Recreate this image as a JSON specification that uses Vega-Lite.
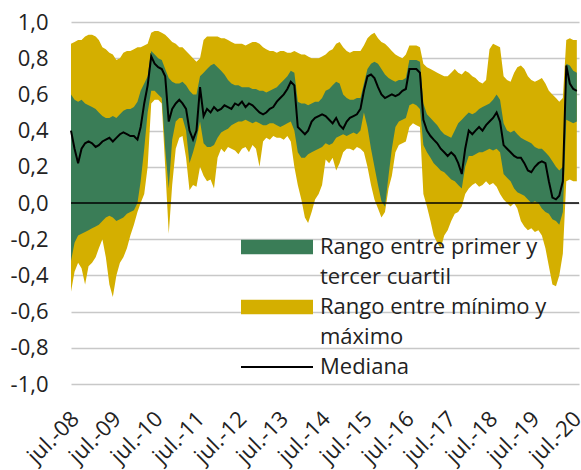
{
"$schema": "https://vega.github.io/schema/vega-lite/v6.json",
"width": 508, "height": 362,
"autosize": "none",
"padding": {"left": 71, "top": 22, "right": 2, "bottom": 86},
"background": "white",
"config": {"view": {"stroke": null}, "font": "Open Sans",
"axisY": {"title": null, "values": [-1, -0.8, -0.6, -0.4, -0.2, 0, 0.2, 0.4, 0.6, 0.8, 1], "tickCount": 11,
"labelExpr": "(datum.value < -0.001 ? '-' : '') + replace(format(abs(datum.value), '.1f'), '.', ',')",
"labelFont": "Open Sans", "labelFontSize": 22, "labelColor": "#222", "labelPadding": 23,
"labelOverlap": false, "labelBound": false, "labelSeparation": 0,
"domain": false, "ticks": false, "tickSize": 0, "grid": true, "gridColor": "#c8c8c8", "gridWidth": 1.5, "labelFlush": false}},
"datasets": {"corr": [
{"d":"2008-07-01","mn":-0.49,"q1":-0.32,"md":0.40,"q3":0.60,"mx":0.88},
{"d":"2008-08-01","mn":-0.38,"q1":-0.22,"md":0.30,"q3":0.57,"mx":0.89},
{"d":"2008-09-01","mn":-0.33,"q1":-0.18,"md":0.22,"q3":0.56,"mx":0.90},
{"d":"2008-10-01","mn":-0.36,"q1":-0.17,"md":0.30,"q3":0.57,"mx":0.90},
{"d":"2008-11-01","mn":-0.45,"q1":-0.16,"md":0.33,"q3":0.55,"mx":0.92},
{"d":"2008-12-01","mn":-0.35,"q1":-0.15,"md":0.34,"q3":0.54,"mx":0.93},
{"d":"2009-01-01","mn":-0.33,"q1":-0.14,"md":0.33,"q3":0.53,"mx":0.93},
{"d":"2009-02-01","mn":-0.30,"q1":-0.13,"md":0.31,"q3":0.52,"mx":0.92},
{"d":"2009-03-01","mn":-0.25,"q1":-0.12,"md":0.32,"q3":0.50,"mx":0.90},
{"d":"2009-04-01","mn":-0.20,"q1":-0.10,"md":0.34,"q3":0.48,"mx":0.86},
{"d":"2009-05-01","mn":-0.30,"q1":-0.08,"md":0.35,"q3":0.47,"mx":0.85},
{"d":"2009-06-01","mn":-0.45,"q1":-0.07,"md":0.36,"q3":0.47,"mx":0.83},
{"d":"2009-07-01","mn":-0.52,"q1":-0.08,"md":0.34,"q3":0.48,"mx":0.82},
{"d":"2009-08-01","mn":-0.40,"q1":-0.10,"md":0.36,"q3":0.47,"mx":0.79},
{"d":"2009-09-01","mn":-0.33,"q1":-0.09,"md":0.38,"q3":0.49,"mx":0.80},
{"d":"2009-10-01","mn":-0.30,"q1":-0.08,"md":0.39,"q3":0.51,"mx":0.83},
{"d":"2009-11-01","mn":-0.25,"q1":-0.06,"md":0.38,"q3":0.52,"mx":0.84},
{"d":"2009-12-01","mn":-0.18,"q1":-0.05,"md":0.37,"q3":0.52,"mx":0.84},
{"d":"2010-01-01","mn":-0.12,"q1":-0.04,"md":0.37,"q3":0.53,"mx":0.85},
{"d":"2010-02-01","mn":-0.05,"q1":0.00,"md":0.35,"q3":0.56,"mx":0.86},
{"d":"2010-03-01","mn":0.00,"q1":0.12,"md":0.42,"q3":0.62,"mx":0.86},
{"d":"2010-04-01","mn":0.05,"q1":0.30,"md":0.55,"q3":0.66,"mx":0.87},
{"d":"2010-05-01","mn":0.20,"q1":0.50,"md":0.65,"q3":0.70,"mx":0.88},
{"d":"2010-06-01","mn":0.55,"q1":0.62,"md":0.81,"q3":0.84,"mx":0.94},
{"d":"2010-07-01","mn":0.57,"q1":0.62,"md":0.77,"q3":0.82,"mx":0.95},
{"d":"2010-08-01","mn":0.57,"q1":0.60,"md":0.75,"q3":0.80,"mx":0.95},
{"d":"2010-09-01","mn":0.55,"q1":0.58,"md":0.74,"q3":0.79,"mx":0.94},
{"d":"2010-10-01","mn":0.20,"q1":0.30,"md":0.70,"q3":0.74,"mx":0.93},
{"d":"2010-11-01","mn":-0.17,"q1":0.08,"md":0.45,"q3":0.69,"mx":0.91},
{"d":"2010-12-01","mn":0.10,"q1":0.35,"md":0.52,"q3":0.67,"mx":0.89},
{"d":"2011-01-01","mn":0.30,"q1":0.45,"md":0.55,"q3":0.66,"mx":0.88},
{"d":"2011-02-01","mn":0.36,"q1":0.47,"md":0.57,"q3":0.66,"mx":0.86},
{"d":"2011-03-01","mn":0.37,"q1":0.47,"md":0.55,"q3":0.67,"mx":0.86},
{"d":"2011-04-01","mn":0.25,"q1":0.40,"md":0.52,"q3":0.65,"mx":0.84},
{"d":"2011-05-01","mn":0.07,"q1":0.22,"md":0.40,"q3":0.62,"mx":0.82},
{"d":"2011-06-01","mn":0.10,"q1":0.28,"md":0.35,"q3":0.60,"mx":0.80},
{"d":"2011-07-01","mn":0.09,"q1":0.35,"md":0.40,"q3":0.60,"mx":0.78},
{"d":"2011-08-01","mn":0.20,"q1":0.45,"md":0.64,"q3":0.70,"mx":0.80},
{"d":"2011-09-01","mn":0.15,"q1":0.33,"md":0.48,"q3":0.72,"mx":0.90},
{"d":"2011-10-01","mn":0.12,"q1":0.31,"md":0.52,"q3":0.74,"mx":0.92},
{"d":"2011-11-01","mn":0.13,"q1":0.31,"md":0.50,"q3":0.76,"mx":0.92},
{"d":"2011-12-01","mn":0.08,"q1":0.32,"md":0.53,"q3":0.77,"mx":0.92},
{"d":"2012-01-01","mn":0.25,"q1":0.36,"md":0.51,"q3":0.75,"mx":0.92},
{"d":"2012-02-01","mn":0.30,"q1":0.39,"md":0.52,"q3":0.73,"mx":0.91},
{"d":"2012-03-01","mn":0.28,"q1":0.40,"md":0.54,"q3":0.71,"mx":0.91},
{"d":"2012-04-01","mn":0.31,"q1":0.41,"md":0.53,"q3":0.68,"mx":0.90},
{"d":"2012-05-01","mn":0.30,"q1":0.43,"md":0.52,"q3":0.66,"mx":0.89},
{"d":"2012-06-01","mn":0.29,"q1":0.44,"md":0.55,"q3":0.65,"mx":0.88},
{"d":"2012-07-01","mn":0.27,"q1":0.45,"md":0.54,"q3":0.65,"mx":0.88},
{"d":"2012-08-01","mn":0.30,"q1":0.45,"md":0.56,"q3":0.64,"mx":0.88},
{"d":"2012-09-01","mn":0.31,"q1":0.46,"md":0.53,"q3":0.64,"mx":0.87},
{"d":"2012-10-01","mn":0.28,"q1":0.45,"md":0.55,"q3":0.64,"mx":0.88},
{"d":"2012-11-01","mn":0.32,"q1":0.44,"md":0.54,"q3":0.63,"mx":0.89},
{"d":"2012-12-01","mn":0.30,"q1":0.45,"md":0.52,"q3":0.63,"mx":0.89},
{"d":"2013-01-01","mn":0.20,"q1":0.44,"md":0.50,"q3":0.62,"mx":0.88},
{"d":"2013-02-01","mn":0.34,"q1":0.43,"md":0.49,"q3":0.62,"mx":0.86},
{"d":"2013-03-01","mn":0.36,"q1":0.43,"md":0.50,"q3":0.61,"mx":0.85},
{"d":"2013-04-01","mn":0.35,"q1":0.44,"md":0.52,"q3":0.62,"mx":0.84},
{"d":"2013-05-01","mn":0.37,"q1":0.44,"md":0.53,"q3":0.63,"mx":0.84},
{"d":"2013-06-01","mn":0.36,"q1":0.43,"md":0.56,"q3":0.64,"mx":0.83},
{"d":"2013-07-01","mn":0.36,"q1":0.42,"md":0.58,"q3":0.66,"mx":0.84},
{"d":"2013-08-01","mn":0.35,"q1":0.43,"md":0.60,"q3":0.68,"mx":0.84},
{"d":"2013-09-01","mn":0.37,"q1":0.44,"md":0.63,"q3":0.70,"mx":0.83},
{"d":"2013-10-01","mn":0.34,"q1":0.45,"md":0.67,"q3":0.73,"mx":0.83},
{"d":"2013-11-01","mn":0.20,"q1":0.40,"md":0.65,"q3":0.72,"mx":0.84},
{"d":"2013-12-01","mn":0.10,"q1":0.28,"md":0.42,"q3":0.56,"mx":0.83},
{"d":"2014-01-01","mn":0.02,"q1":0.25,"md":0.40,"q3":0.55,"mx":0.82},
{"d":"2014-02-01","mn":-0.08,"q1":0.25,"md":0.38,"q3":0.55,"mx":0.82},
{"d":"2014-03-01","mn":-0.11,"q1":0.27,"md":0.40,"q3":0.54,"mx":0.81},
{"d":"2014-04-01","mn":-0.05,"q1":0.28,"md":0.45,"q3":0.55,"mx":0.80},
{"d":"2014-05-01","mn":0.02,"q1":0.29,"md":0.47,"q3":0.56,"mx":0.80},
{"d":"2014-06-01","mn":0.05,"q1":0.30,"md":0.48,"q3":0.56,"mx":0.80},
{"d":"2014-07-01","mn":0.10,"q1":0.31,"md":0.49,"q3":0.58,"mx":0.81},
{"d":"2014-08-01","mn":0.24,"q1":0.33,"md":0.48,"q3":0.62,"mx":0.82},
{"d":"2014-09-01","mn":0.22,"q1":0.32,"md":0.46,"q3":0.63,"mx":0.84},
{"d":"2014-10-01","mn":0.25,"q1":0.33,"md":0.44,"q3":0.65,"mx":0.85},
{"d":"2014-11-01","mn":0.18,"q1":0.36,"md":0.47,"q3":0.67,"mx":0.88},
{"d":"2014-12-01","mn":0.22,"q1":0.37,"md":0.43,"q3":0.66,"mx":0.89},
{"d":"2015-01-01","mn":0.28,"q1":0.38,"md":0.41,"q3":0.60,"mx":0.86},
{"d":"2015-02-01","mn":0.30,"q1":0.37,"md":0.45,"q3":0.58,"mx":0.84},
{"d":"2015-03-01","mn":0.30,"q1":0.38,"md":0.47,"q3":0.57,"mx":0.83},
{"d":"2015-04-01","mn":0.29,"q1":0.39,"md":0.48,"q3":0.57,"mx":0.84},
{"d":"2015-05-01","mn":0.31,"q1":0.38,"md":0.49,"q3":0.58,"mx":0.84},
{"d":"2015-06-01","mn":0.30,"q1":0.40,"md":0.52,"q3":0.58,"mx":0.84},
{"d":"2015-07-01","mn":0.28,"q1":0.50,"md":0.62,"q3":0.66,"mx":0.87},
{"d":"2015-08-01","mn":0.20,"q1":0.42,"md":0.70,"q3":0.74,"mx":0.91},
{"d":"2015-09-01","mn":0.10,"q1":0.30,"md":0.71,"q3":0.77,"mx":0.93},
{"d":"2015-10-01","mn":0.02,"q1":0.20,"md":0.69,"q3":0.78,"mx":0.94},
{"d":"2015-11-01","mn":-0.03,"q1":0.10,"md":0.64,"q3":0.77,"mx":0.91},
{"d":"2015-12-01","mn":-0.08,"q1":0.01,"md":0.60,"q3":0.74,"mx":0.89},
{"d":"2016-01-01","mn":-0.05,"q1":-0.02,"md":0.58,"q3":0.71,"mx":0.88},
{"d":"2016-02-01","mn":0.08,"q1":0.15,"md":0.59,"q3":0.69,"mx":0.86},
{"d":"2016-03-01","mn":0.15,"q1":0.30,"md":0.60,"q3":0.68,"mx":0.84},
{"d":"2016-04-01","mn":0.28,"q1":0.42,"md":0.59,"q3":0.67,"mx":0.82},
{"d":"2016-05-01","mn":0.32,"q1":0.45,"md":0.60,"q3":0.68,"mx":0.81},
{"d":"2016-06-01","mn":0.33,"q1":0.46,"md":0.62,"q3":0.68,"mx":0.80},
{"d":"2016-07-01","mn":0.34,"q1":0.47,"md":0.63,"q3":0.69,"mx":0.82},
{"d":"2016-08-01","mn":0.42,"q1":0.54,"md":0.74,"q3":0.79,"mx":0.87},
{"d":"2016-09-01","mn":0.44,"q1":0.55,"md":0.74,"q3":0.79,"mx":0.87},
{"d":"2016-10-01","mn":0.43,"q1":0.54,"md":0.74,"q3":0.79,"mx":0.87},
{"d":"2016-11-01","mn":0.42,"q1":0.52,"md":0.72,"q3":0.78,"mx":0.86},
{"d":"2016-12-01","mn":0.05,"q1":0.32,"md":0.46,"q3":0.55,"mx":0.77},
{"d":"2017-01-01","mn":-0.02,"q1":0.28,"md":0.40,"q3":0.49,"mx":0.75},
{"d":"2017-02-01","mn":-0.10,"q1":0.25,"md":0.37,"q3":0.47,"mx":0.74},
{"d":"2017-03-01","mn":-0.18,"q1":0.22,"md":0.35,"q3":0.45,"mx":0.73},
{"d":"2017-04-01","mn":-0.22,"q1":0.20,"md":0.33,"q3":0.43,"mx":0.72},
{"d":"2017-05-01","mn":-0.25,"q1":0.18,"md":0.30,"q3":0.40,"mx":0.71},
{"d":"2017-06-01","mn":-0.18,"q1":0.17,"md":0.28,"q3":0.38,"mx":0.70},
{"d":"2017-07-01","mn":-0.15,"q1":0.15,"md":0.26,"q3":0.37,"mx":0.70},
{"d":"2017-08-01","mn":-0.10,"q1":0.13,"md":0.28,"q3":0.36,"mx":0.72},
{"d":"2017-09-01","mn":-0.06,"q1":0.12,"md":0.26,"q3":0.40,"mx":0.74},
{"d":"2017-10-01","mn":-0.05,"q1":0.10,"md":0.22,"q3":0.44,"mx":0.72},
{"d":"2017-11-01","mn":-0.02,"q1":0.08,"md":0.16,"q3":0.46,"mx":0.71},
{"d":"2017-12-01","mn":0.05,"q1":0.20,"md":0.30,"q3":0.48,"mx":0.73},
{"d":"2018-01-01","mn":0.08,"q1":0.26,"md":0.40,"q3":0.50,"mx":0.72},
{"d":"2018-02-01","mn":0.10,"q1":0.26,"md":0.38,"q3":0.49,"mx":0.70},
{"d":"2018-03-01","mn":0.11,"q1":0.27,"md":0.40,"q3":0.50,"mx":0.69},
{"d":"2018-04-01","mn":0.09,"q1":0.28,"md":0.42,"q3":0.52,"mx":0.67},
{"d":"2018-05-01","mn":0.10,"q1":0.28,"md":0.40,"q3":0.53,"mx":0.66},
{"d":"2018-06-01","mn":0.12,"q1":0.29,"md":0.43,"q3":0.54,"mx":0.68},
{"d":"2018-07-01","mn":0.10,"q1":0.30,"md":0.45,"q3":0.55,"mx":0.85},
{"d":"2018-08-01","mn":0.11,"q1":0.29,"md":0.47,"q3":0.57,"mx":0.88},
{"d":"2018-09-01","mn":0.09,"q1":0.30,"md":0.50,"q3":0.60,"mx":0.87},
{"d":"2018-10-01","mn":0.05,"q1":0.28,"md":0.45,"q3":0.57,"mx":0.86},
{"d":"2018-11-01","mn":0.02,"q1":0.16,"md":0.32,"q3":0.44,"mx":0.70},
{"d":"2018-12-01","mn":0.00,"q1":0.14,"md":0.30,"q3":0.40,"mx":0.68},
{"d":"2019-01-01","mn":-0.02,"q1":0.12,"md":0.28,"q3":0.39,"mx":0.67},
{"d":"2019-02-01","mn":0.00,"q1":0.08,"md":0.26,"q3":0.40,"mx":0.72},
{"d":"2019-03-01","mn":-0.03,"q1":0.06,"md":0.25,"q3":0.38,"mx":0.75},
{"d":"2019-04-01","mn":-0.10,"q1":0.05,"md":0.25,"q3":0.36,"mx":0.76},
{"d":"2019-05-01","mn":-0.13,"q1":0.04,"md":0.22,"q3":0.35,"mx":0.74},
{"d":"2019-06-01","mn":-0.15,"q1":0.02,"md":0.18,"q3":0.34,"mx":0.70},
{"d":"2019-07-01","mn":-0.14,"q1":0.00,"md":0.17,"q3":0.33,"mx":0.68},
{"d":"2019-08-01","mn":-0.16,"q1":0.01,"md":0.20,"q3":0.31,"mx":0.67},
{"d":"2019-09-01","mn":-0.15,"q1":0.00,"md":0.22,"q3":0.30,"mx":0.68},
{"d":"2019-10-01","mn":-0.18,"q1":-0.03,"md":0.23,"q3":0.30,"mx":0.69},
{"d":"2019-11-01","mn":-0.25,"q1":-0.05,"md":0.22,"q3":0.28,"mx":0.66},
{"d":"2019-12-01","mn":-0.35,"q1":-0.06,"md":0.12,"q3":0.26,"mx":0.62},
{"d":"2020-01-01","mn":-0.45,"q1":-0.09,"md":0.03,"q3":0.23,"mx":0.60},
{"d":"2020-02-01","mn":-0.46,"q1":-0.10,"md":0.02,"q3":0.20,"mx":0.58},
{"d":"2020-03-01","mn":-0.40,"q1":-0.12,"md":0.04,"q3":0.18,"mx":0.56},
{"d":"2020-04-01","mn":-0.28,"q1":-0.05,"md":0.12,"q3":0.20,"mx":0.58},
{"d":"2020-05-01","mn":0.12,"q1":0.46,"md":0.76,"q3":0.77,"mx":0.90},
{"d":"2020-06-01","mn":0.13,"q1":0.45,"md":0.66,"q3":0.76,"mx":0.91},
{"d":"2020-07-01","mn":0.12,"q1":0.44,"md":0.63,"q3":0.73,"mx":0.90},
{"d":"2020-08-01","mn":0.12,"q1":0.45,"md":0.62,"q3":0.72,"mx":0.90}
], "zero": [{"v": 0}]},
"layer": [
{
"data": {"name": "corr"},
"mark": {"type": "area", "interpolate": "linear"},
"encoding": {
"x": {"field": "d", "type": "temporal",
"scale": {"type": "utc", "domain": [{"year": 2008, "month": "jul", "date": 1, "utc": true}, {"year": 2020, "month": "aug", "date": 20, "utc": true}], "nice": false},
"axis": {"title": null, "values": [
{"year": 2008, "month": "jul", "date": 1, "utc": true},
{"year": 2009, "month": "jul", "date": 1, "utc": true},
{"year": 2010, "month": "jul", "date": 1, "utc": true},
{"year": 2011, "month": "jul", "date": 1, "utc": true},
{"year": 2012, "month": "jul", "date": 1, "utc": true},
{"year": 2013, "month": "jul", "date": 1, "utc": true},
{"year": 2014, "month": "jul", "date": 1, "utc": true},
{"year": 2015, "month": "jul", "date": 1, "utc": true},
{"year": 2016, "month": "jul", "date": 1, "utc": true},
{"year": 2017, "month": "jul", "date": 1, "utc": true},
{"year": 2018, "month": "jul", "date": 1, "utc": true},
{"year": 2019, "month": "jul", "date": 1, "utc": true},
{"year": 2020, "month": "jul", "date": 1, "utc": true}],
"labelExpr": "'jul.-' + utcFormat(datum.value, '%y')",
"labelAngle": -45, "labelAlign": "right", "labelBaseline": "middle",
"labelFont": "Open Sans", "labelFontSize": 22, "labelColor": "#222",
"labelPadding": 31, "labelOffset": 4, "labelOverlap": false, "labelBound": false, "labelFlush": false,
"domain": false, "ticks": false, "grid": false}},
"y": {"field": "mn", "type": "quantitative",
"scale": {"domain": [-1, 1], "nice": false, "zero": false},
"axis": {"values": [-1, -0.8, -0.6, -0.4, -0.2, 0, 0.2, 0.4, 0.6, 0.8, 1], "labelOverlap": false}},
"y2": {"field": "mx"},
"color": {"datum": "Rango entre mínimo y máximo", "type": "nominal",
"scale": {"domain": ["Rango entre primer y tercer cuartil", "Rango entre mínimo y máximo", "Mediana"], "range": ["#3a7d57", "#d4af00", "#000000"]},
"legend": {"title": null, "orient": "none", "legendX": 170, "legendY": 214,
"symbolType": "M-6,-1.2H6V1.2H-6Z", "symbolSize": 144, "symbolStrokeWidth": 0, "symbolOffset": 25,
"labelFont": "Open Sans", "labelFontSize": 22, "labelColor": "#222", "labelLimit": 0, "labelOffset": 32,
"rowPadding": 8, "padding": 0,
"labelExpr": "datum.label == 'Rango entre primer y tercer cuartil' ? ['Rango entre primer y', 'tercer cuartil'] : datum.label == 'Rango entre mínimo y máximo' ? ['Rango entre mínimo y', 'máximo'] : datum.label",
"encode": {
"symbols": {"update": {"shape": {"signal": "datum.value == 'Mediana' ? 'M-6,-0.15H6V0.15H-6Z' : 'M-6,-1.2H6V1.2H-6Z'"}, "fill": {"scale": "color", "field": "value"}, "stroke": {"value": "transparent"}, "opacity": {"value": 1}}},
"labels": {"update": {"lineHeight": {"value": 30}}}}}}
}
},
{
"data": {"name": "corr"},
"mark": {"type": "area", "interpolate": "linear"},
"encoding": {
"x": {"field": "d", "type": "temporal"},
"y": {"field": "q1", "type": "quantitative", "axis": {"values": [-1, -0.8, -0.6, -0.4, -0.2, 0, 0.2, 0.4, 0.6, 0.8, 1], "labelOverlap": false}},
"y2": {"field": "q3"},
"color": {"datum": "Rango entre primer y tercer cuartil", "type": "nominal"}
}
},
{
"data": {"name": "corr"},
"mark": {"type": "line", "strokeWidth": 2, "interpolate": "linear"},
"encoding": {
"x": {"field": "d", "type": "temporal"},
"y": {"field": "md", "type": "quantitative", "axis": {"values": [-1, -0.8, -0.6, -0.4, -0.2, 0, 0.2, 0.4, 0.6, 0.8, 1], "labelOverlap": false}},
"color": {"datum": "Mediana", "type": "nominal"}
}
},
{
"data": {"name": "zero"},
"mark": {"type": "rule", "color": "#000000", "strokeWidth": 1.5},
"encoding": {"y": {"field": "v", "type": "quantitative", "axis": {"values": [-1, -0.8, -0.6, -0.4, -0.2, 0, 0.2, 0.4, 0.6, 0.8, 1], "labelOverlap": false}}}
}
]
}
